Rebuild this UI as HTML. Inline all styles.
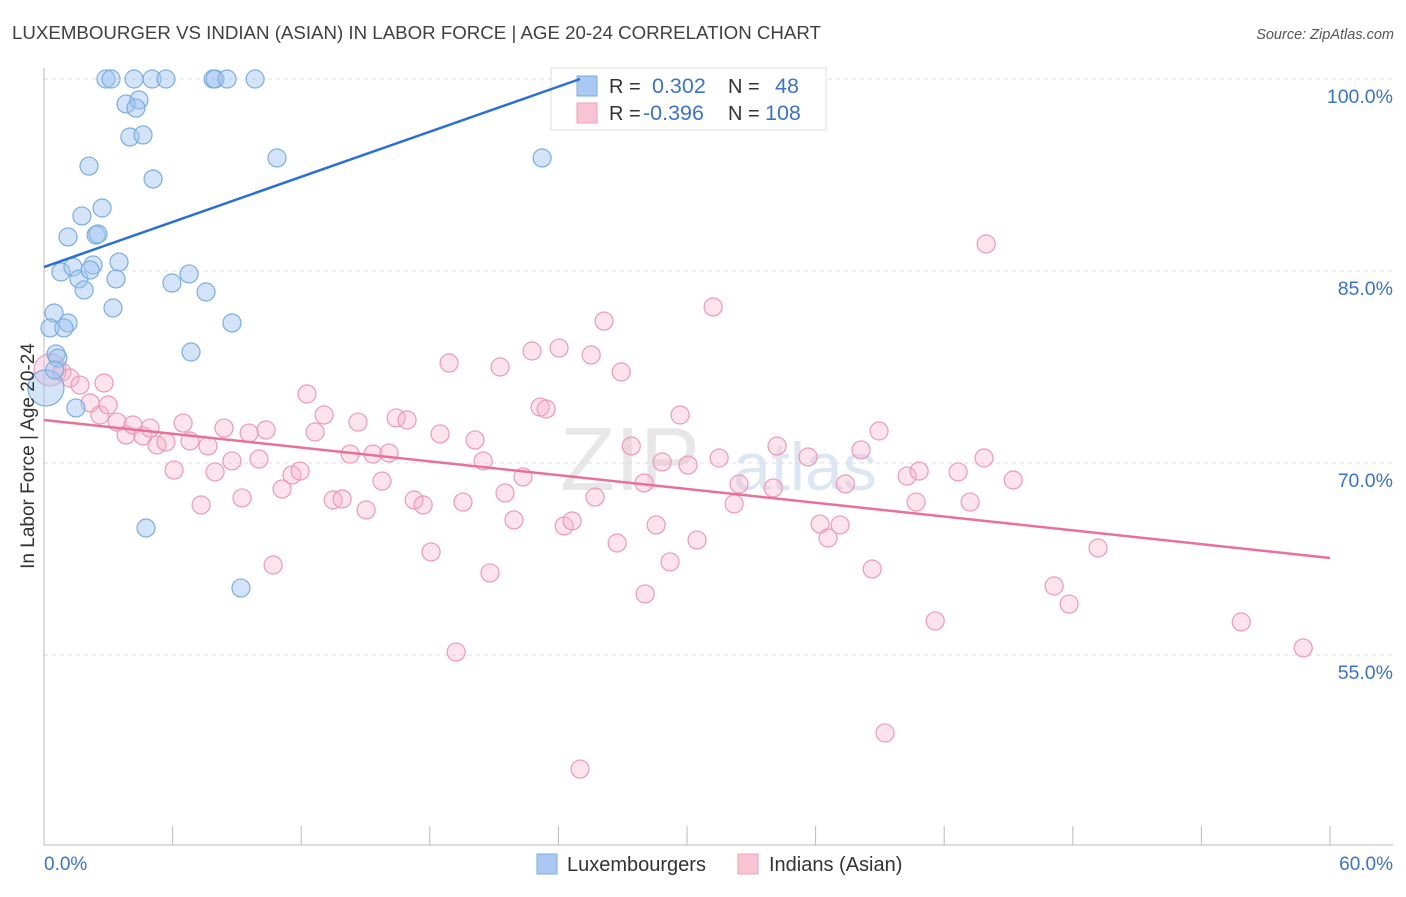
<!DOCTYPE html>
<html><head><meta charset="utf-8"><style>
body{margin:0;background:#fff;font-family:"Liberation Sans",sans-serif;}
svg text{font-family:"Liberation Sans",sans-serif;}
</style></head><body>
<svg id="chart" width="1406" height="892" viewBox="0 0 1406 892">
<text x="12" y="39" font-size="18.7" fill="#404040">LUXEMBOURGER VS INDIAN (ASIAN) IN LABOR FORCE | AGE 20-24 CORRELATION CHART</text>
<text x="1394" y="39" font-size="14.5" fill="#555" font-style="italic" text-anchor="end">Source: ZipAtlas.com</text>
<text x="630" y="490" font-size="90" fill="#d8d8d8" font-family="Liberation Serif" text-anchor="middle" opacity="0.6">ZIP</text>
<text x="805" y="490" font-size="68" fill="#c8d8ee" text-anchor="middle" opacity="0.6">atlas</text>
<g id="grid"></g>
<g id="axes"></g>
<g id="pink"></g>
<g id="blue"></g>
<g>
<rect x="551" y="68" width="275" height="62" fill="#fff" stroke="#ddd"/>
<rect x="577" y="76" width="20" height="20" fill="#a9c8f2" stroke="#7aaee0"/>
<rect x="577" y="103" width="20" height="20" fill="#f8c3d3" stroke="#eea0b8"/>
<text x="609" y="93" font-size="20" fill="#333">R = <tspan x="652" fill="#3a72d0" font-size="21.5">0.302</tspan></text>
<text x="728" y="93" font-size="20" fill="#333">N = <tspan x="775" fill="#3a72d0" font-size="21.5">48</tspan></text>
<text x="609" y="120" font-size="20" fill="#333">R = <tspan x="643" fill="#3a72d0" font-size="21.5">-0.396</tspan></text>
<text x="728" y="120" font-size="20" fill="#333">N = <tspan x="765" fill="#3a72d0" font-size="21.5">108</tspan></text>
</g>
<g id="lines"></g>
<text transform="translate(34,456) rotate(-90)" font-size="19" fill="#333" text-anchor="middle">In Labor Force | Age 20-24</text>
<g>
<rect x="537" y="854" width="20" height="20" fill="#a9c8f2" stroke="#7aaee0"/>
<text x="567" y="871" font-size="20" fill="#333">Luxembourgers</text>
<rect x="738" y="854" width="20" height="20" fill="#f8c3d3" stroke="#eea0b8"/>
<text x="769" y="871" font-size="20" fill="#333">Indians (Asian)</text>
</g>
</svg>
<script>
const yTicks=[100,85,70,55];
const yTickLabels=["100.0%","85.0%","70.0%","55.0%"];
const xTickLabels=["0.0%","60.0%"];
const blueX=[2.89,3.13,4.2,5.04,5.69,7.89,7.98,8.54,9.85,3.83,4.43,4.29,4.01,4.62,2.1,5.09,10.87,23.24,1.77,2.71,1.12,2.43,2.52,0.79,1.35,1.63,2.29,2.15,3.5,3.36,5.97,6.77,7.56,1.87,3.22,0.47,0.28,1.12,0.93,8.77,6.86,0.56,0.65,1.49,4.76,9.19,0.09,0.5];
const blueY=[100,100,100,100,100,100,100,100,100,98.05,98.36,97.73,95.47,95.63,93.2,92.19,93.83,93.83,89.3,89.92,87.66,87.81,87.89,84.92,85.31,84.38,85.47,85.08,85.7,84.38,84.06,84.77,83.36,83.52,82.11,81.72,80.55,80.94,80.55,80.94,78.67,78.52,78.2,74.3,64.92,60.23,75.86,77.27];
const pinkX=[0.28,0.84,1.21,1.68,2.8,2.15,2.61,2.99,3.41,3.83,4.15,4.62,4.95,5.27,5.69,6.07,6.49,6.81,7.33,7.65,7.98,8.4,8.77,9.24,9.57,10.03,10.36,10.69,11.11,11.57,11.95,12.27,12.65,13.07,13.49,13.91,14.28,14.65,15.03,15.35,15.77,16.1,16.43,16.94,17.27,17.69,18.06,18.48,18.9,19.23,19.55,20.11,20.49,20.81,21.28,21.51,21.93,22.35,22.77,23.15,23.43,24.03,24.27,24.64,25.01,25.53,25.71,26.13,26.74,26.93,27.4,28.05,28.0,28.56,28.84,29.21,29.68,30.05,30.47,31.22,31.5,32.2,32.43,34.02,34.2,35.65,36.21,36.58,37.14,37.39,38.12,38.64,38.96,39.24,40.27,40.69,40.83,41.58,42.65,43.21,43.86,43.96,45.22,47.13,47.83,49.18,55.86,58.75];
const pinkY=[77.27,77.11,76.64,76.09,76.25,74.69,73.75,74.53,73.2,72.19,72.97,72.11,72.73,71.41,71.64,69.45,73.12,71.72,66.72,71.33,69.3,72.73,70.16,67.27,72.34,70.31,72.58,62.03,67.97,69.06,69.37,75.39,72.42,73.75,67.11,67.19,70.7,73.2,66.33,70.7,68.59,70.78,73.52,73.36,67.11,66.72,63.05,72.27,77.81,55.23,66.95,71.8,70.16,61.41,77.5,67.66,65.55,68.91,78.75,74.37,74.22,78.98,65.08,65.47,46.09,78.44,67.34,81.09,63.75,77.11,71.33,59.77,68.44,65.16,70.08,62.27,73.75,69.84,63.98,82.19,70.39,66.8,68.36,68.05,71.33,70.47,65.23,64.14,65.16,68.36,71.02,61.72,72.5,48.91,68.98,66.95,69.37,57.66,69.3,66.95,70.39,87.11,68.67,60.39,58.98,63.36,57.58,55.55];
const blueTrend=[[0,85.31],[25.01,100]];
const pinkTrend=[[0,73.36],[60,62.58]];
const NS="http://www.w3.org/2000/svg";
const X=v=>44+v*1286/60;
const Y=v=>79+(100-v)*12.8;
function mk(tag,attrs,parent){const e=document.createElementNS(NS,tag);for(const k in attrs)e.setAttribute(k,attrs[k]);document.getElementById(parent).appendChild(e);return e;}
yTicks.forEach((t,i)=>{
 const l=mk('line',{x1:44,x2:1393,y1:Y(t),y2:Y(t),stroke:'#ddd','stroke-dasharray':'4,4'},'grid');
 
 
 const tx=mk('text',{x:1393,y:Y(t)+24,'font-size':19.5,fill:'#3a72d0','text-anchor':'end'},'axes');
 tx.textContent=yTickLabels[i];
 
 
});
const ax=mk('line',{x1:44,x2:1393,y1:845,y2:845,stroke:'#bbb'},'axes');


const ay=mk('line',{x1:44,x2:44,y1:68,y2:845,stroke:'#bbb'},'axes');


for(let i=0;i<=10;i++){
 const tk=mk('line',{x1:X(i*6),x2:X(i*6),y1:826,y2:845,stroke:'#bbb'},'axes');
 
 
}
[[0,'start',44],[60,'end',1393]].forEach((d,i)=>{
 const tx=mk('text',{x:d[2],y:870,'font-size':19,fill:'#3a72d0','text-anchor':d[1]},'axes');
 tx.textContent=xTickLabels[i];
 
 
});
pinkX.forEach((x,i)=>{
 const c=mk('circle',{cx:X(x),cy:Y(pinkY[i]),r:i===0?16:9,fill:'rgba(246,175,200,0.35)',stroke:'#eb9ab6','stroke-width':1.2},'pink');
 
 
});
blueX.forEach((x,i)=>{
 const c=mk('circle',{cx:X(x),cy:Y(blueY[i]),r:i===46?18:9,fill:'rgba(160,196,240,0.45)',stroke:'#7aaee0','stroke-width':1.2},'blue');
 
 
});
const bl=mk('line',{x1:X(blueTrend[0][0]),y1:Y(blueTrend[0][1]),x2:X(blueTrend[1][0]),y2:Y(blueTrend[1][1]),stroke:'#2a6fd6','stroke-width':2.5},'lines');


const pl=mk('line',{x1:X(pinkTrend[0][0]),y1:Y(pinkTrend[0][1]),x2:X(pinkTrend[1][0]),y2:Y(pinkTrend[1][1]),stroke:'#e8709a','stroke-width':2.5},'lines');


</script>
</body></html>
